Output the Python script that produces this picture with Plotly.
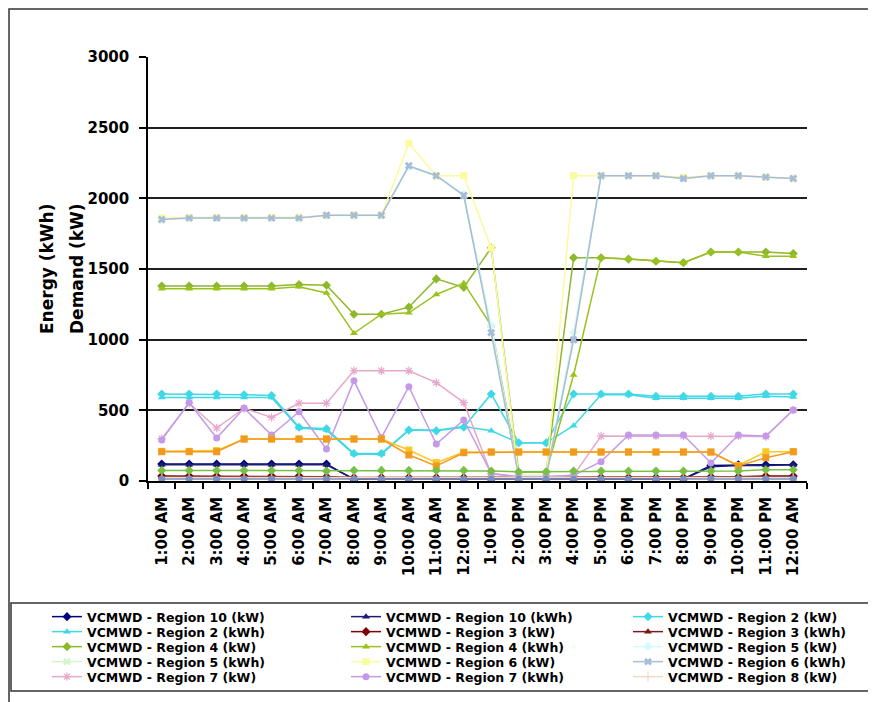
import plotly.graph_objects as go

categories = ["1:00 AM", "2:00 AM", "3:00 AM", "4:00 AM", "5:00 AM", "6:00 AM",
              "7:00 AM", "8:00 AM", "9:00 AM", "10:00 AM", "11:00 AM", "12:00 PM",
              "1:00 PM", "2:00 PM", "3:00 PM", "4:00 PM", "5:00 PM", "6:00 PM",
              "7:00 PM", "8:00 PM", "9:00 PM", "10:00 PM", "11:00 PM", "12:00 AM"]

region10_kw = [120, 120, 120, 120, 120, 120, 120, 10, 20, 20, 20, 20, 20, 20, 20, 20, 20, 20, 20, 15, 110, 115, 115, 115]
region10_kwh = [115, 115, 115, 115, 115, 115, 115, 15, 15, 15, 15, 15, 15, 15, 15, 15, 15, 15, 15, 15, 100, 110, 110, 115]
region2_kw = [615, 615, 615, 610, 605, 380, 370, 195, 195, 360, 355, 380, 616, 270, 270, 616, 616, 616, 600, 600, 600, 600, 616, 616]
region2_kwh = [590, 590, 590, 590, 590, 375, 360, 190, 190, 360, 360, 385, 356, 270, 270, 391, 610, 610, 585, 585, 585, 585, 600, 595]
region3_kw = [35, 35, 35, 35, 35, 35, 30, 25, 25, 25, 25, 25, 25, 25, 25, 25, 25, 25, 25, 25, 30, 30, 35, 35]
region3_kwh = [30, 30, 30, 30, 30, 30, 28, 22, 22, 22, 22, 22, 22, 22, 22, 22, 22, 22, 22, 22, 28, 28, 30, 30]
region4_kw = [1380, 1380, 1380, 1380, 1380, 1390, 1385, 1180, 1180, 1230, 1430, 1370, 1650, 62, 62, 1580, 1580, 1570, 1555, 1545, 1620, 1620, 1620, 1610]
region4_kwh = [1360, 1360, 1360, 1360, 1360, 1375, 1330, 1045, 1180, 1190, 1320, 1400, 1100, 62, 62, 750, 1580, 1570, 1555, 1545, 1620, 1620, 1590, 1590]
region5_kw = [1855, 1862, 1862, 1862, 1862, 1862, 1878, 1878, 1878, 2220, 2160, 2030, 1100, 35, 35, 1050, 2160, 2160, 2160, 2140, 2160, 2160, 2150, 2140]
region5_kwh = [1850, 1865, 1865, 1865, 1865, 1865, 1880, 1880, 1880, 2230, 2160, 2020, 1050, 40, 40, 1000, 2160, 2160, 2160, 2140, 2160, 2160, 2150, 2140]
region6_kw = [1860, 1865, 1865, 1865, 1865, 1865, 1880, 1880, 1880, 2390, 2160, 2160, 1650, 30, 30, 2160, 2160, 2160, 2160, 2150, 2160, 2160, 2150, 2140]
region6_kwh = [1850, 1860, 1860, 1860, 1860, 1860, 1880, 1880, 1880, 2230, 2160, 2020, 1050, 30, 30, 1000, 2160, 2160, 2160, 2140, 2160, 2160, 2150, 2140]
region7_kw = [300, 550, 375, 515, 450, 550, 550, 780, 780, 780, 696, 555, 50, 30, 30, 40, 318, 318, 318, 318, 318, 318, 314, 502]
region7_kwh = [290, 555, 304, 515, 325, 490, 226, 710, 307, 667, 262, 432, 55, 30, 30, 40, 137, 325, 325, 325, 127, 325, 318, 502]
region8_kw = [25, 25, 25, 25, 25, 25, 25, 25, 25, 25, 25, 25, 25, 25, 25, 25, 25, 25, 25, 25, 25, 25, 25, 25]
# series drawn in the chart whose legend entries are cut off in the original
region9_kw = [210, 210, 215, 297, 297, 297, 297, 297, 297, 219, 130, 205, 205, 205, 205, 205, 205, 205, 205, 205, 205, 110, 207, 207]
region8_kwh = [207, 207, 207, 297, 297, 297, 297, 297, 297, 184, 106, 200, 205, 205, 205, 205, 205, 205, 205, 205, 205, 106, 165, 207]
region9_kwh = [75, 75, 75, 75, 75, 75, 70, 75, 75, 75, 75, 75, 70, 65, 65, 70, 70, 70, 70, 70, 70, 70, 80, 80]
region1_kw = [15, 15, 15, 15, 15, 15, 15, 12, 12, 12, 12, 12, 12, 12, 12, 12, 12, 12, 12, 12, 15, 15, 15, 15]

series = [
    ("VCMWD - Region 10 (kW)", region10_kw, "#000080", "diamond", True),
    ("VCMWD - Region 10 (kWh)", region10_kwh, "#1c1c72", "triangle-up", True),
    ("VCMWD - Region 2 (kW)", region2_kw, "#3fd8e6", "diamond", True),
    ("VCMWD - Region 2 (kWh)", region2_kwh, "#3fd8e6", "triangle-up", True),
    ("VCMWD - Region 3 (kW)", region3_kw, "#800000", "diamond", True),
    ("VCMWD - Region 3 (kWh)", region3_kwh, "#7a1a1a", "triangle-up", True),
    ("VCMWD - Region 4 (kW)", region4_kw, "#8cb82a", "diamond", True),
    ("VCMWD - Region 4 (kWh)", region4_kwh, "#99c21e", "triangle-up", True),
    ("VCMWD - Region 5 (kW)", region5_kw, "#d4fafc", "diamond", True),
    ("VCMWD - Region 5 (kWh)", region5_kwh, "#d6f5cf", "x", True),
    ("VCMWD - Region 6 (kW)", region6_kw, "#fafa9e", "square", True),
    ("VCMWD - Region 6 (kWh)", region6_kwh, "#a7bcd8", "x", True),
    ("VCMWD - Region 7 (kW)", region7_kw, "#e6a9cc", "asterisk-open", True),
    ("VCMWD - Region 7 (kWh)", region7_kwh, "#c49ae8", "circle", True),
    ("VCMWD - Region 8 (kW)", region8_kw, "#f2d9c4", "line-ns-open", True),
    ("VCMWD - Region 9 (kW)", region9_kw, "#f9c825", "square", False),
    ("VCMWD - Region 8 (kWh)", region8_kwh, "#f29a1f", "square", False),
    ("VCMWD - Region 9 (kWh)", region9_kwh, "#77c043", "diamond", False),
    ("VCMWD - Region 1 (kW)", region1_kw, "#7a8fbf", "circle", False),
]

# page offset of the plot div (browser body margin)
OFF = 8
W, H = 876 - OFF, 702 - OFF
# plot area in page pixels (as in the reference)
PX0, PX1, PY0, PY1 = 148, 807, 57, 481
L, R, T, B = PX0 - OFF, W - (PX1 - OFF), PY0 - OFF, H - (PY1 - OFF)
pw, ph = W - L - R, H - T - B

def px_x(x):
    return (x - OFF - L) / pw

def px_y(y):
    return (H - B - (y - OFF)) / ph

legend_cols = [47, 346, 628]
legend_row0, legend_row_step = 617, 15

bold = dict(family="DejaVu Sans", size=15, color="black", weight="bold")
legfont = dict(family="DejaVu Sans", size=12.5, color="black", weight="bold")

fig = go.Figure()
legends = {}
for i, (name, vals, color, sym, show) in enumerate(series):
    open_sym = sym.endswith("-open")
    lid = "legend" if i == 0 else f"legend{i + 1}"
    if show:
        col, row = i % 3, i // 3
        legends[lid] = dict(orientation="v", x=px_x(legend_cols[col]),
                            y=px_y(legend_row0 + legend_row_step * row),
                            xanchor="left", yanchor="middle", font=legfont,
                            bgcolor="rgba(0,0,0,0)", borderwidth=0,
                            itemsizing="trace")
    fig.add_trace(go.Scatter(
        x=categories, y=vals, name=name, mode="lines+markers",
        line=dict(color=color, width=1.5),
        marker=dict(symbol=sym, size=7, color=color,
                    line=dict(color=color, width=1.2 if open_sym else 0)),
        showlegend=show, legend=lid if show else "legend",
    ))

fig.update_layout(
    width=W, height=H,
    margin=dict(l=L, r=R, t=T, b=B, pad=0, autoexpand=False),
    paper_bgcolor="white", plot_bgcolor="white",
    xaxis=dict(type="category", categoryorder="array", categoryarray=categories,
               range=[-0.5, 23.5], showline=True, linecolor="black", linewidth=1.5,
               ticks="outside", ticklen=6, tickwidth=1.5, tickcolor="black",
               tickson="boundaries", tickangle=-90, tickfont=bold,
               ticklabelstandoff=8,
               showgrid=False, zeroline=False, automargin=False),
    yaxis=dict(range=[0, 3000], dtick=500, showline=True, linecolor="black",
               linewidth=1.5, ticks="outside", ticklen=7, tickwidth=1.5,
               tickcolor="black", tickfont=bold, showgrid=True, ticklabelstandoff=7,
               gridcolor="#202020", gridwidth=2, zeroline=False, automargin=False),
    showlegend=True,
    **legends,
)

# y-axis titles (two lines)
for txt, xp in (("Energy (kWh)", 47), ("Demand (kW)", 77)):
    fig.add_annotation(text=txt, x=px_x(xp), y=px_y(269), xref="paper", yref="paper",
                       xanchor="center", yanchor="middle",
                       textangle=-90, showarrow=False,
                       font=dict(family="DejaVu Sans", size=17, color="black", weight="bold"))

# outer chart border (left + top) and legend box
fig.add_shape(type="path", xref="paper", yref="paper",
              path=f"M {px_x(9)},{px_y(710)} L {px_x(9)},{px_y(9)} L {px_x(890)},{px_y(9)}",
              line=dict(color="#333333", width=1.5))
fig.add_shape(type="rect", xref="paper", yref="paper",
              x0=px_x(11), x1=px_x(870), y0=px_y(603), y1=px_y(691),
              line=dict(color="#333333", width=1.5), fillcolor="rgba(0,0,0,0)")

fig.write_html("out.html")
